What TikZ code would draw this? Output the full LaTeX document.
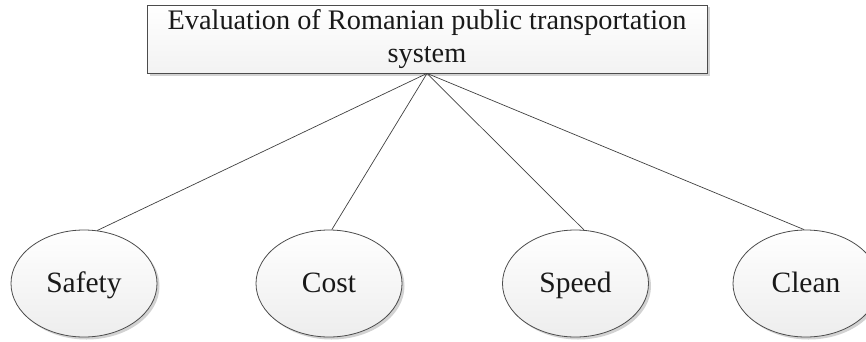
\documentclass[tikz,border=0pt]{standalone}
\usepackage{fontspec}
\setmainfont{Liberation Serif}
\usetikzlibrary{shapes.geometric,shadows}
\begin{document}
\begin{tikzpicture}[x=1pt,y=1pt,
  every node/.style={font=\fontsize{29.5}{33}\selectfont, text=black!90},
  goalbox/.style={draw=black!70, line width=0.8pt, rectangle,
    minimum width=560pt, minimum height=68pt, inner sep=0pt, align=center,
    font=\fontsize{28.3}{33}\selectfont,
    top color=white, bottom color=gray!10,
    drop shadow={shadow xshift=2.5pt, shadow yshift=-2.5pt, fill=gray!35, opacity=1}},
  critnode/.style={draw=black!70, line width=0.8pt, ellipse,
    minimum width=146pt, minimum height=107pt, inner sep=0pt,
    text height=21pt, text depth=4pt,
    top color=white, bottom color=gray!14,
    drop shadow={shadow xshift=2.5pt, shadow yshift=-2.5pt, fill=gray!35, opacity=1}},
  link/.style={draw=black!75, line width=0.7pt}
]
\useasboundingbox (0,0) rectangle (866,341);

% goal at the top
\node[goalbox] (goal) at (427,302)
  {\raisebox{2.5pt}{\begin{tabular}{@{}c@{}}Evaluation of Romanian public transportation\\[0pt]system\end{tabular}}};

% criteria
\node[critnode] (safety) at (84,57.5)  {Safety};
\node[critnode] (cost)   at (329,57.5) {Cost};
\node[critnode] (speed)  at (575.5,57.5) {Speed};
\node[critnode] (clean)  at (806,57.5) {Clean};

% connectors from the goal to each criterion
\draw[link] (goal.south) -- (safety.76);
\draw[link] (goal.south) -- (cost.87);
\draw[link] (goal.south) -- (speed.81);
\draw[link] (goal.south) -- (clean.92);
\end{tikzpicture}
\end{document}
